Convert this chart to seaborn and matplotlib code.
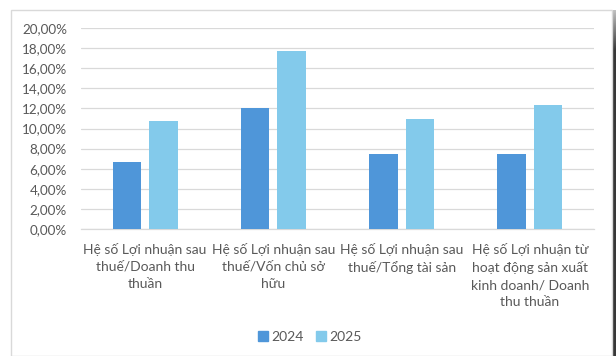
import matplotlib
matplotlib.use("Agg")
import matplotlib.pyplot as plt
import matplotlib.patches as mpatches
from matplotlib.ticker import FuncFormatter, MultipleLocator
import numpy as np
import pandas as pd
import seaborn as sns

categories = [
    "Hệ số Lợi nhuận sau\nthuế/Doanh thu\nthuần",
    "Hệ số Lợi nhuận sau\nthuế/Vốn chủ sở\nhữu",
    "Hệ số Lợi nhuận sau\nthuế/Tổng tài sản",
    "Hệ số Lợi nhuận từ\nhoạt động sản xuất\nkinh doanh/ Doanh\nthu thuần",
]
years = ["2024", "2025"]
values_2024 = [6.70, 12.04, 7.43, 7.49]
values_2025 = [10.78, 17.71, 10.95, 12.34]
colors = ["#4F96D9", "#83CAEB"]

df = pd.DataFrame({
    "Chỉ tiêu": categories * 2,
    "Năm": [years[0]] * 4 + [years[1]] * 4,
    "Giá trị": values_2024 + values_2025,
})

sns.set_theme(style="white")
plt.rcParams["font.family"] = ["Lato", "DejaVu Sans"]
text_color = "#595959"

fig = plt.figure(figsize=(6.16, 3.56), dpi=100)
ax = fig.add_axes([81 / 616, 1 - 229 / 356, (594 - 81) / 616, (229 - 28) / 356])

sns.barplot(data=df, x="Chỉ tiêu", y="Giá trị", hue="Năm", order=categories,
            hue_order=years, palette=colors, width=0.57, gap=0.22,
            linewidth=0, saturation=1, ax=ax, legend=False, zorder=3)

ax.set_ylim(0, 20)
ax.set_xlim(-0.5, 3.5)
ax.yaxis.set_major_locator(MultipleLocator(2))
ax.yaxis.set_major_formatter(FuncFormatter(lambda v, p: f"{v:.2f}%".replace(".", ",")))
ax.grid(axis="y", color="#D9D9D9", linewidth=0.9, zorder=0)
ax.set_axisbelow(True)
for side in ["top", "right", "left"]:
    ax.spines[side].set_visible(False)
ax.spines["bottom"].set_color("#D9D9D9")
ax.spines["bottom"].set_linewidth(0.9)
ax.set_xlabel("")
ax.set_ylabel("")
ax.tick_params(axis="y", length=0, pad=10, labelsize=9.7, labelcolor=text_color)
ax.tick_params(axis="x", length=0, pad=10, labelsize=10, labelcolor=text_color)
for lbl in ax.get_xticklabels():
    lbl.set_linespacing(1.5)

handles = [mpatches.Patch(color=c, label=y) for c, y in zip(colors, years)]
fig.legend(handles=handles, loc="center", bbox_to_anchor=(0.503, 1 - 337 / 356),
           ncol=2, frameon=False, fontsize=10, labelcolor=text_color,
           handlelength=0.7, handleheight=0.7, handletextpad=0.25, columnspacing=0.9)

# chart frame with a shadow strip on the right edge
fig.add_artist(mpatches.Rectangle((11 / 616, 0), 601 / 616, 1 - 10 / 356,
                                  transform=fig.transFigure, fill=False,
                                  edgecolor="#D9D9D9", linewidth=1.0))
grad = np.linspace(0.75, 0.22, 40).reshape(-1, 1)
shade = np.vstack([grad, np.full((300, 1), 0.22)])
sax = fig.add_axes([613 / 616, 0, 3 / 616, 1 - 10 / 356])
sax.imshow(shade, cmap="gray", vmin=0, vmax=1, aspect="auto")
sax.axis("off")

fig.savefig("out.png", dpi=100)
